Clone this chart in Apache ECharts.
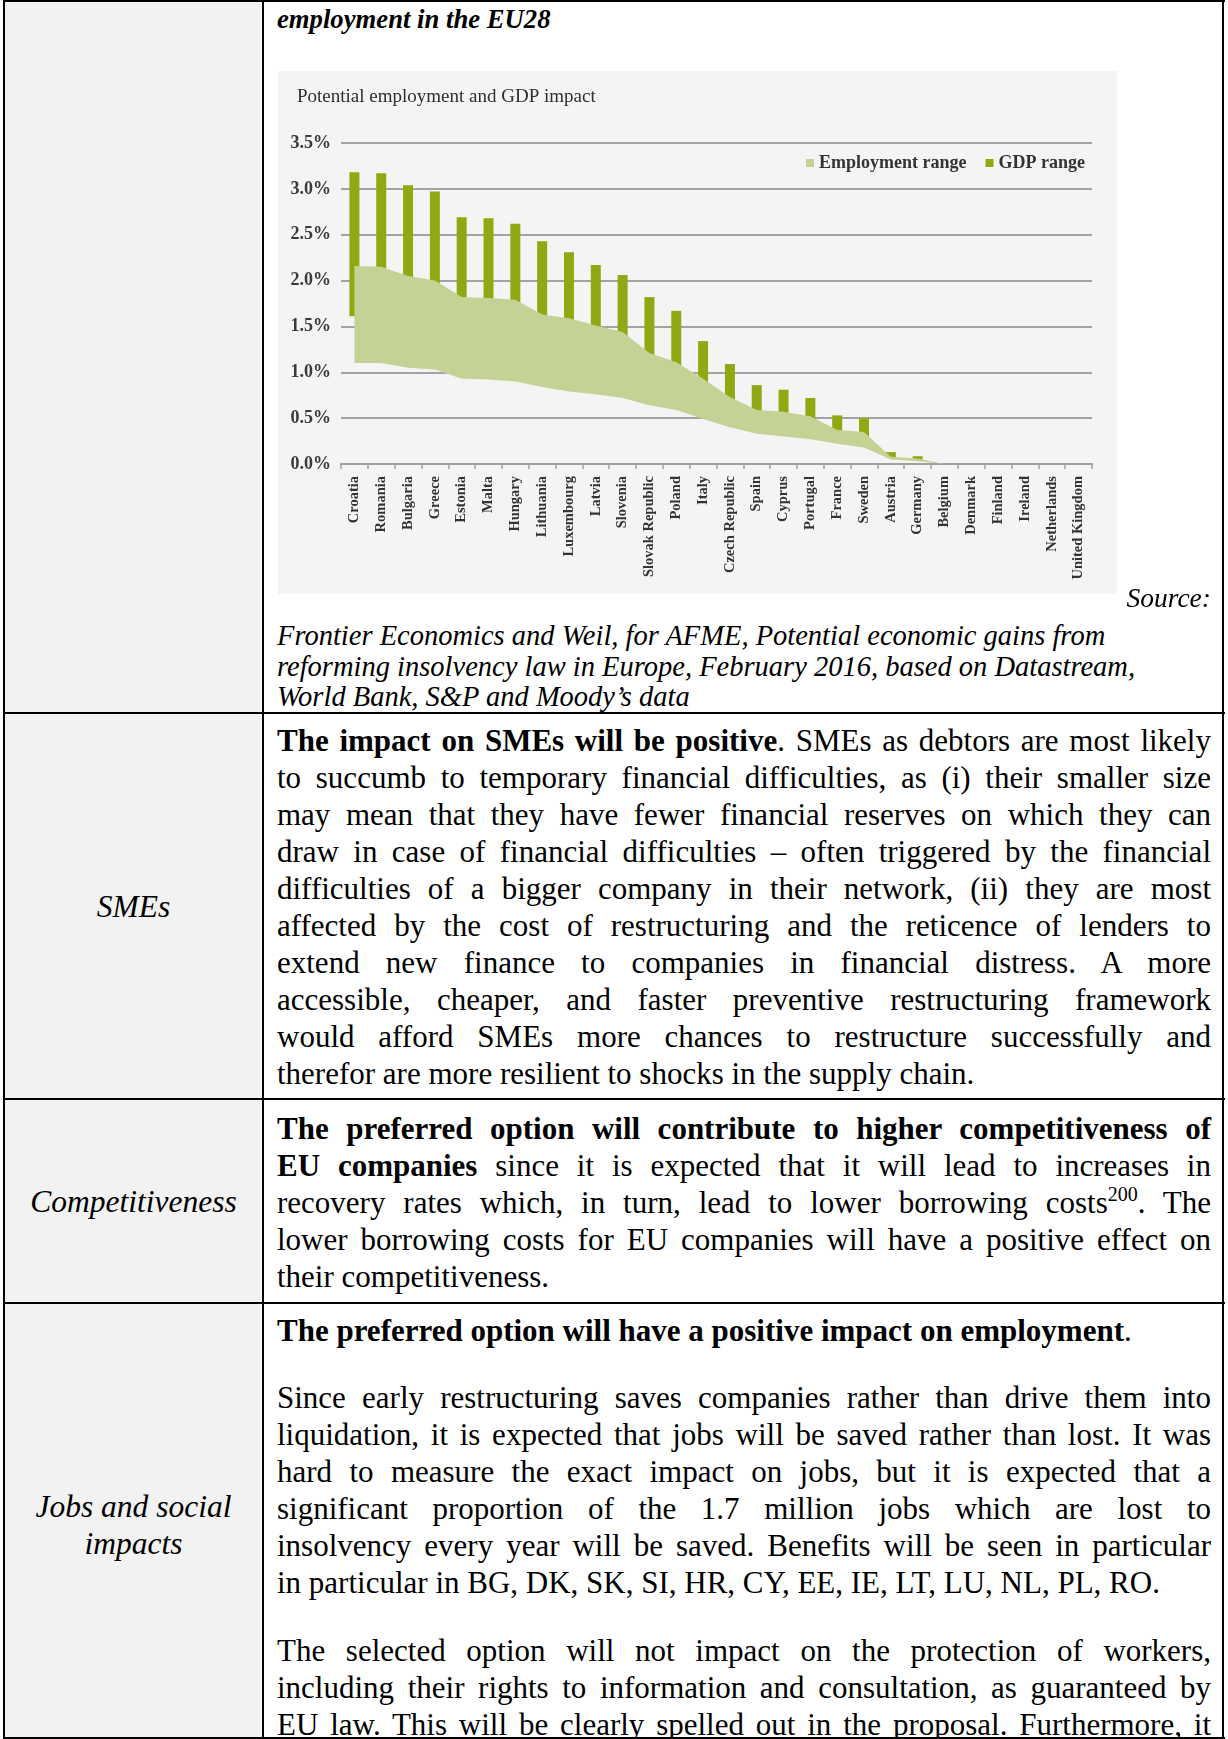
<!DOCTYPE html>
<html>
<head>
<meta charset="utf-8">
<script src="https://cdn.jsdelivr.net/npm/echarts@6/dist/echarts.min.js"></script>
<style>
  html, body { margin: 0; padding: 0; background: #fff; }
  #page { position: relative; width: 1228px; height: 1739px; overflow: hidden; font-family: "Liberation Serif", "Times New Roman", serif; color: #000; }
  .abs { position: absolute; }
  .hl { position: absolute; background: #000; height: 2px; left: 3px; width: 1222px; }
  .vl { position: absolute; background: #000; width: 2px; top: 0; height: 1739px; }
  .txt { position: absolute; left: 277px; width: 934px; font-size: 31px; line-height: 37px; }
  .txt div { text-align: justify; text-align-last: justify; white-space: nowrap; }
  .txt div.last { text-align-last: left; }
  .lab { position: absolute; left: 5px; width: 257px; text-align: center; font-style: italic; font-size: 31.5px; line-height: 37px; }
  sup { font-size: 20px; line-height: 0; vertical-align: 12px; }
</style>
</head>
<body>
<div id="page">
  <div class="abs" style="left:5px;top:0;width:257px;height:1739px;background:#f2f2f2;"></div>

  <div class="abs" style="left:277px;top:4px;font-size:26.7px;line-height:31px;font-weight:bold;font-style:italic;">employment in the EU28</div>
  <div id="chart" class="abs" style="left:278px;top:71px;width:839px;height:523px;"></div>
  <div class="abs" style="left:1100px;width:111px;top:582px;text-align:right;font-size:27.5px;line-height:31px;font-style:italic;">Source:</div>
  <div class="abs" style="left:277px;top:621px;width:940px;font-size:28.5px;line-height:30.7px;font-style:italic;white-space:nowrap;">Frontier Economics and Weil, for AFME, Potential economic gains from<br>reforming insolvency law in Europe, February 2016, based on Datastream,<br>World Bank, S&amp;P and Moody’s data</div>

  <div class="lab" style="top:888px;">SMEs</div>
  <div class="txt" style="top:721.5px;">
    <div><b>The impact on SMEs will be positive</b>. SMEs as debtors are most likely</div>
    <div>to succumb to temporary financial difficulties, as (i) their smaller size</div>
    <div>may mean that they have fewer financial reserves on which they can</div>
    <div>draw in case of financial difficulties – often triggered by the financial</div>
    <div>difficulties of a bigger company in their network, (ii) they are most</div>
    <div>affected by the cost of restructuring and the reticence of lenders to</div>
    <div>extend new finance to companies in financial distress. A more</div>
    <div>accessible, cheaper, and faster preventive restructuring framework</div>
    <div>would afford SMEs more chances to restructure successfully and</div>
    <div class="last">therefor are more resilient to shocks in the supply chain.</div>
  </div>

  <div class="lab" style="top:1183px;">Competitiveness</div>
  <div class="txt" style="top:1109.5px;">
    <div><b>The preferred option will contribute to higher competitiveness of</b></div>
    <div><b>EU companies</b> since it is expected that it will lead to increases in</div>
    <div>recovery rates which, in turn, lead to lower borrowing costs<sup>200</sup>. The</div>
    <div>lower borrowing costs for EU companies will have a positive effect on</div>
    <div class="last">their competitiveness.</div>
  </div>

  <div class="lab" style="top:1488px;">Jobs and social<br>impacts</div>
  <div class="txt" style="top:1311.5px;">
    <div class="last"><b>The preferred option will have a positive impact on employment</b>.</div>
  </div>
  <div class="txt" style="top:1379px;">
    <div>Since early restructuring saves companies rather than drive them into</div>
    <div>liquidation, it is expected that jobs will be saved rather than lost. It was</div>
    <div>hard to measure the exact impact on jobs, but it is expected that a</div>
    <div>significant proportion of the 1.7 million jobs which are lost to</div>
    <div>insolvency every year will be saved. Benefits will be seen in particular</div>
    <div class="last">in particular in BG, DK, SK, SI, HR, CY, EE, IE, LT, LU, NL, PL, RO.</div>
  </div>
  <div class="txt" style="top:1632px;">
    <div>The selected option will not impact on the protection of workers,</div>
    <div>including their rights to information and consultation, as guaranteed by</div>
    <div>EU law. This will be clearly spelled out in the proposal. Furthermore, it</div>
  </div>

  <div class="hl" style="top:0px;"></div>
  <div class="hl" style="top:712px;"></div>
  <div class="hl" style="top:1098px;"></div>
  <div class="hl" style="top:1302px;"></div>
  <div class="hl" style="top:1737px;"></div>
  <div class="vl" style="left:3px;"></div>
  <div class="vl" style="left:262px;"></div>
  <div class="vl" style="left:1222px;"></div>
</div>

<script>
// ---- Data (percent) ----
const categories = ['Croatia','Romania','Bulgaria','Greece','Estonia','Malta','Hungary','Lithuania','Luxembourg','Latvia','Slovenia','Slovak Republic','Poland','Italy','Czech Republic','Spain','Cyprus','Portugal','France','Sweden','Austria','Germany','Belgium','Denmark','Finland','Ireland','Netherlands','United Kingdom'];
const gdpLow  = [1.61,1.61,1.54,1.51,1.38,1.37,1.33,1.23,1.15,1.11,1.06,0.93,0.86,0.70,0.55,0.47,0.41,0.36,0.30,0.25,0.07,0.045,0,0,0,0,0,0];
const gdpHigh = [3.18,3.17,3.04,2.97,2.69,2.68,2.62,2.43,2.31,2.17,2.06,1.82,1.67,1.34,1.09,0.86,0.81,0.72,0.53,0.50,0.13,0.085,0,0,0,0,0,0];
const empLow  = [1.10,1.10,1.05,1.03,0.93,0.92,0.90,0.84,0.79,0.76,0.72,0.64,0.59,0.49,0.40,0.33,0.30,0.27,0.22,0.18,0.05,0.03,0,0,0,0,0,0];
const empHigh = [2.16,2.15,2.05,2.00,1.82,1.81,1.79,1.63,1.59,1.51,1.44,1.21,1.11,0.93,0.73,0.59,0.57,0.52,0.37,0.35,0.08,0.06,0,0,0,0,0,0];
const yMin = 0, yMax = 3.5, yStep = 0.5;
const chartTitle = 'Potential employment and GDP impact';
const legendNames = ['Employment range', 'GDP range'];

const empSpan = empHigh.map((v, i) => +(v - empLow[i]).toFixed(3));
const gdpSpan = gdpHigh.map((v, i) => +(v - gdpLow[i]).toFixed(3));

const FONT = '"Liberation Serif", "Times New Roman", serif';
const chart = echarts.init(document.getElementById('chart'), null, { renderer: 'canvas' });
chart.setOption({
  animation: false,
  backgroundColor: '#f4f4f4',
  title: {
    text: chartTitle, left: 14, top: 12,
    textStyle: { fontFamily: FONT, fontSize: 19, fontWeight: 'normal', color: '#2e2e2e' }
  },
  legend: {
    data: legendNames, right: 27, top: 78, icon: 'rect', itemWidth: 8, itemHeight: 8, itemGap: 19,
    textStyle: { fontFamily: FONT, fontSize: 18, fontWeight: 'bold', color: '#333' }
  },
  grid: { left: 63, right: 25, top: 72, bottom: 130, outerBoundsMode: 'none' },
  xAxis: {
    type: 'category', data: categories, boundaryGap: true,
    axisLine: { lineStyle: { color: '#a0a0a0', width: 2 } },
    axisTick: { show: true, length: 5, lineStyle: { color: '#a0a0a0', width: 1.5 } },
    axisLabel: { rotate: 90, interval: 0, margin: 12, fontFamily: FONT, fontSize: 14.5, fontWeight: 'bold', color: '#333' }
  },
  yAxis: {
    type: 'value', min: yMin, max: yMax, interval: yStep,
    axisLine: { show: false }, axisTick: { show: false },
    splitLine: { lineStyle: { color: '#a3a3a3', width: 2 } },
    axisLabel: { margin: 10, fontFamily: FONT, fontSize: 18, fontWeight: 'bold', color: '#3a3a3a',
      formatter: v => v.toFixed(1) + '%' }
  },
  series: [
    { name: 'empBase', type: 'line', stack: 'emp', data: empLow, symbol: 'none', silent: true,
      lineStyle: { width: 0, opacity: 0 }, itemStyle: { color: 'transparent' } },
    { name: 'Employment range', type: 'line', stack: 'emp', data: empSpan, symbol: 'none', silent: true,
      lineStyle: { width: 0, opacity: 0 }, itemStyle: { color: '#c4d296' },
      areaStyle: { color: '#c4d296', opacity: 1 } },
    { name: 'gdpBase', type: 'bar', stack: 'gdp', data: gdpLow, barWidth: 10, silent: true,
      itemStyle: { color: 'transparent' } },
    { name: 'GDP range', type: 'bar', stack: 'gdp', data: gdpSpan, barWidth: 10,
      itemStyle: { color: '#8fa912' } }
  ]
});
</script>
</body>
</html>
